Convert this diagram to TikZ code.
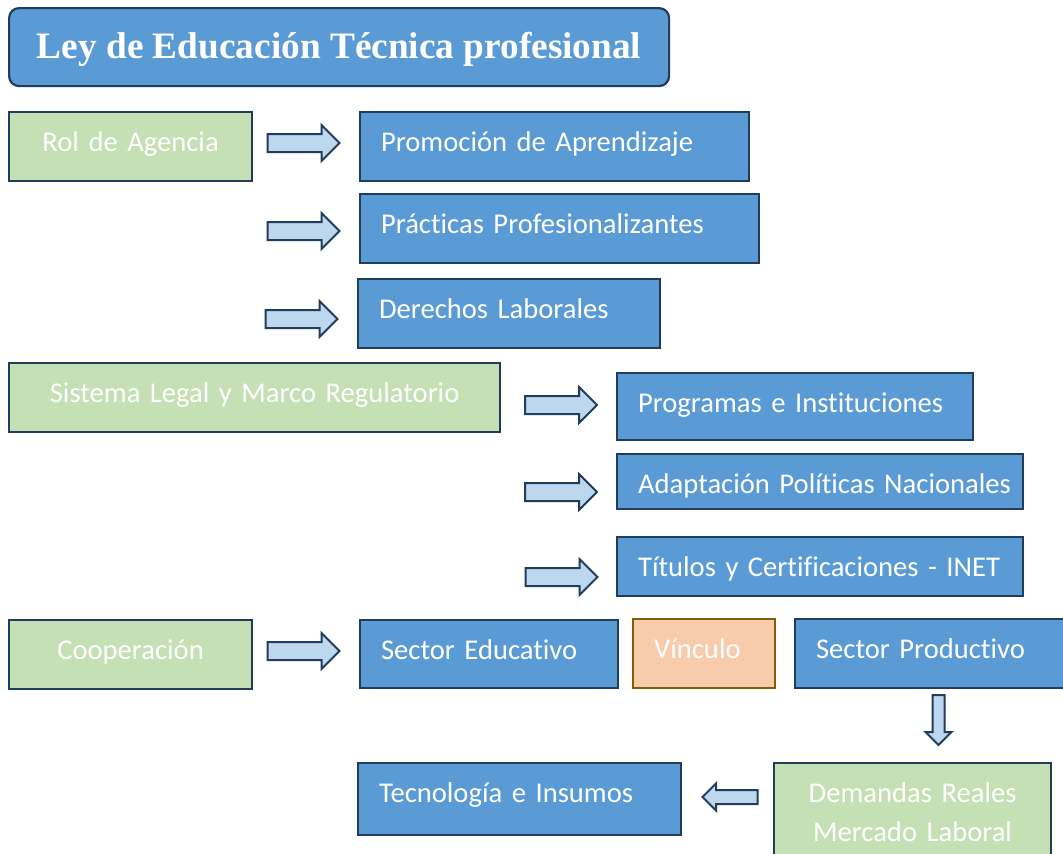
\documentclass[tikz,border=0pt]{standalone}
\usepackage{fontspec}
\setmainfont{Carlito}[Ligatures=NoCommon]
\newfontfamily\titlefont{Liberation Serif}
\usetikzlibrary{shapes.arrows}
\definecolor{bluefill}{HTML}{5B9BD5}
\definecolor{greenfill}{HTML}{C5E0B4}
\definecolor{orangefill}{HTML}{F8CBAD}
\definecolor{arrowfill}{HTML}{BDD7EE}
\definecolor{edge}{HTML}{213D5C}
\definecolor{brownedge}{HTML}{7F6000}
\begin{document}
\begin{tikzpicture}[x=1pt,y=-1pt,
  basebox/.style={draw=edge, line width=2.2pt, text=white,
    font=\fontsize{28.6}{39}\selectfont, anchor=north west,
    inner xsep=0pt, inner ysep=0pt, text height=39pt},
  box/.style={basebox, fill=bluefill, align=left,
    execute at begin node={\hspace*{21pt}}},
  gbox/.style={basebox, fill=greenfill, align=center},
  obox/.style={box, fill=orangefill, draw=brownedge},
  blk/.style={single arrow, draw=edge, fill=arrowfill, line width=2pt,
    minimum width=0pt, single arrow tip angle=90},
  rarr/.style={blk, minimum height=72pt, inner xsep=0pt, inner ysep=8pt, single arrow head extend=9pt}
]
\clip (0,0) rectangle (1063,854);
\fill[white] (0,0) rectangle (1063,854);

% title
\node[draw=edge, line width=2.2pt, fill=bluefill, rounded corners=10pt, anchor=north west,
  minimum width=660pt, minimum height=78pt, inner sep=0pt, text=white,
  font=\titlefont\bfseries\fontsize{37.3}{40}\selectfont, text height=50pt, text depth=28pt]
  (title) at (8,7) {Ley de Educación Técnica profesional};

% row 1
\node[gbox, text width=243pt, text depth=30pt] (rol) at (8,111) {Rol de Agencia};
\node[box, text width=389pt, text depth=30pt] (prom) at (359,111) {Promoción de Aprendizaje};
\node[box, text width=399pt, text depth=30pt] (prac) at (359,193) {Prácticas Profesionalizantes};
\node[box, text width=302pt, text depth=30pt] (der) at (357,278) {Derechos Laborales};

% row 2
\node[gbox, text width=491pt, text depth=30pt] (sis) at (8,362) {Sistema Legal y Marco Regulatorio};
\node[box, text width=356pt, text depth=28pt] (prog) at (616,372) {Programas e Instituciones};
\node[box, text width=406pt, text depth=16pt] (adap) at (616,453) {Adaptación Políticas Nacionales};
\node[box, text width=406pt, text depth=20pt] (tit) at (616,536) {Títulos y Certificaciones - INET};

% row 3
\node[gbox, text width=243pt, text depth=30pt] (coop) at (8,619) {Cooperación};
\node[box, text width=258pt, text depth=29pt] (edu) at (359,619) {Sector Educativo};
\node[obox, text width=142pt, text depth=30pt] (vin) at (632,618) {Vínculo};
\node[box, text width=290pt, text depth=30pt] (prod) at (794,618) {Sector Productivo};

% row 4
\node[box, text width=323pt, text depth=33pt] (tec) at (357,762) {Tecnología e Insumos};
\node[gbox, text width=277pt, text depth=71pt] (dem) at (773,762) {Demandas Reales\\Mercado Laboral};

% block arrows
\node[rarr] (a1) at (299,143) {};
\node[rarr] (a2) at (299,231) {};
\node[rarr] (a3) at (297,319) {};
\node[rarr] (a4) at (556.5,405) {};
\node[rarr] (a5) at (556.5,492) {};
\node[rarr] (a6) at (557,577) {};
\node[rarr] (a7) at (299,651) {};
\node[blk, shape border rotate=270, minimum height=50pt, inner xsep=5pt, inner ysep=0pt,
  single arrow head extend=7pt] (ad) at (938.5,717) {};
\node[blk, shape border rotate=180, minimum height=55pt, inner xsep=0pt, inner ysep=6pt,
  single arrow head extend=6.5pt] (al) at (733.5,797) {};
\end{tikzpicture}
\end{document}
